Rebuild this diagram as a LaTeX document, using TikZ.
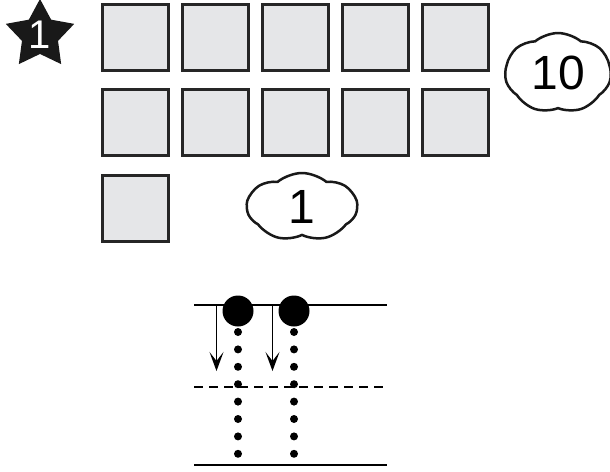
\documentclass[tikz,border=0pt]{standalone}
\usepackage{fontspec}
\setmainfont{Liberation Sans}
\usetikzlibrary{shapes.geometric, shapes.symbols, arrows.meta}
\definecolor{boxgray}{RGB}{229,230,232}
\tikzset{
  box/.style={rectangle, draw=black!85, line width=3pt, fill=boxgray, minimum size=66pt, inner sep=0pt},
  puff/.style={cloud, cloud puffs=7, cloud puff arc=80, draw=black!90, line width=2.5pt, fill=white, inner sep=0pt, font=\fontsize{48}{48}\selectfont},
  bead/.style={circle, fill=black, minimum size=31pt, inner sep=0pt},
  dot/.style={circle, fill=black, minimum size=8pt, inner sep=0pt},
  rail/.style={line width=2pt},
  drop/.style={-{Stealth[length=19pt, width=14pt, inset=9pt]}, line width=1.5pt}
}

\begin{document}
\begin{tikzpicture}[x=1pt,y=-1pt]
    \useasboundingbox (0,0) rectangle (610,471);

    % star badge
    \node[star, star points=5, star point ratio=1.9, fill=black!90, minimum size=72pt, inner sep=0pt] (badge) at (40,35) {};
    \node[text=white, inner sep=0pt, font=\fontsize{40}{40}\selectfont] (badgenum) at (badge.center) {1};

    % squares
    \foreach \row/\y in {0/37.5, 1/122.5}
      \foreach \col in {0,...,4}
        \node[box] (sq\row\col) at ({135+80*\col},\y) {};
    \node[box] (sq20) at (135,208.5) {};

    % clouds
    \node[puff, minimum width=106pt, minimum height=72pt] (ten) at (558,73) {10};
    \node[puff, minimum width=110pt, minimum height=68pt] (one) at (302,207) {1};

    % rails
    \coordinate (topL) at (194,305);
    \coordinate (topR) at (387,305);
    \coordinate (midL) at (194,387);
    \coordinate (midR) at (387,387);
    \coordinate (botL) at (194,465);
    \coordinate (botR) at (387,465);
    \draw[rail] (topL) -- (topR);
    \draw[rail, dash pattern=on 9pt off 6pt] (midL) -- (midR);
    \draw[rail] (botL) -- (botR);

    % dotted tracks and beads
    \foreach \x [count=\i] in {238,294} {
      \foreach \k in {0,...,7}
        \node[dot] (dot\i\k) at (\x,{332+17.4*\k}) {};
      \node[bead] (bead\i) at (\x,311) {};
    }

    % arrows
    \coordinate (drop1s) at (216.5,305);
    \coordinate (drop1e) at (216.5,371);
    \coordinate (drop2s) at (272.5,305);
    \coordinate (drop2e) at (272.5,371);
    \draw[drop] (drop1s) -- (drop1e);
    \draw[drop] (drop2s) -- (drop2e);
\end{tikzpicture}
\end{document}
